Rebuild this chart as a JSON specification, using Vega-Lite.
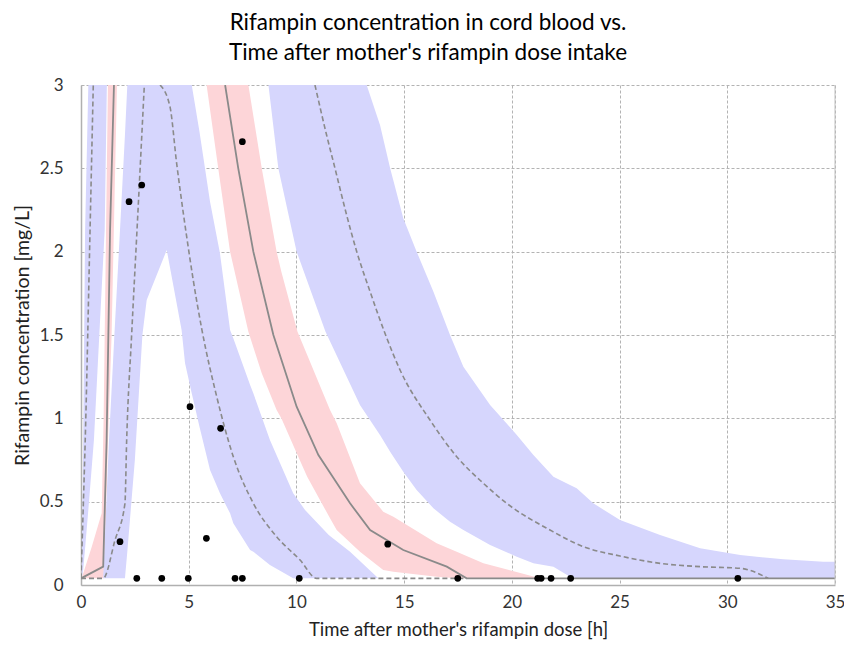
{
  "$schema": "https://vega.github.io/schema/vega-lite/v6.json",
  "width": 754,
  "height": 500,
  "autosize": {"type": "none"},
  "padding": {"left": 81, "top": 85, "right": 9, "bottom": 65},
  "background": "white",
  "title": {
    "text": ["Rifampin concentration in cord blood vs.", "Time after mother's rifampin dose intake"],
    "font": "Lato",
    "fontSize": 22.5,
    "fontWeight": "normal",
    "color": "#000000",
    "anchor": "middle",
    "dx": -30,
    "offset": 12,
    "lineHeight": 30
  },
  "config": {
    "view": {"stroke": null},
    "axis": {
      "grid": true,
      "gridColor": "#b3b3b3",
      "gridDash": [3, 2],
      "gridWidth": 1,
      "domainColor": "#b0b0b0",
      "domainWidth": 1.5,
      "ticks": false,
      "labelFlush": false,
      "labelFont": "Lato",
      "labelFontSize": 17,
      "labelColor": "#333333",
      "titleFont": "Lato",
      "titleFontSize": 18.5,
      "titleFontWeight": "normal",
      "titleColor": "#222222",
      "zindex": 1
    }
  },
  "datasets": {
    "bands": [
      {"band": "p95", "seg": "p95a", "t": 0.03, "lo": 0.04, "hi": 0.04},
      {"band": "p95", "seg": "p95a", "t": 0.1, "lo": 0.09, "hi": 0.84},
      {"band": "p95", "seg": "p95a", "t": 0.19, "lo": 0.22, "hi": 2.13},
      {"band": "p95", "seg": "p95a", "t": 0.34, "lo": 0.45, "hi": 3},
      {"band": "p95", "seg": "p95a", "t": 0.6, "lo": 0.87, "hi": 3},
      {"band": "p95", "seg": "p95a", "t": 0.85, "lo": 1.5, "hi": 3},
      {"band": "p95", "seg": "p95a", "t": 1.1, "lo": 2.13, "hi": 3},
      {"band": "p95", "seg": "p95a", "t": 1.2, "lo": 3, "hi": 3},

      {"band": "p95", "seg": "p95b", "t": 8.7, "lo": 3, "hi": 3},
      {"band": "p95", "seg": "p95b", "t": 9.16, "lo": 2.5, "hi": 3},
      {"band": "p95", "seg": "p95b", "t": 10.01, "lo": 2.0, "hi": 3},
      {"band": "p95", "seg": "p95b", "t": 11.35, "lo": 1.52, "hi": 3},
      {"band": "p95", "seg": "p95b", "t": 12.95, "lo": 1.08, "hi": 3},
      {"band": "p95", "seg": "p95b", "t": 13.26, "lo": 1.02, "hi": 3},
      {"band": "p95", "seg": "p95b", "t": 13.88, "lo": 0.9, "hi": 2.76},
      {"band": "p95", "seg": "p95b", "t": 14.35, "lo": 0.8, "hi": 2.5},
      {"band": "p95", "seg": "p95b", "t": 14.96, "lo": 0.68, "hi": 2.2},
      {"band": "p95", "seg": "p95b", "t": 15.58, "lo": 0.57, "hi": 2.0},
      {"band": "p95", "seg": "p95b", "t": 16.36, "lo": 0.46, "hi": 1.76},
      {"band": "p95", "seg": "p95b", "t": 17.13, "lo": 0.38, "hi": 1.5},
      {"band": "p95", "seg": "p95b", "t": 17.75, "lo": 0.33, "hi": 1.31},
      {"band": "p95", "seg": "p95b", "t": 18.99, "lo": 0.24, "hi": 1.08},
      {"band": "p95", "seg": "p95b", "t": 20.23, "lo": 0.17, "hi": 0.9},
      {"band": "p95", "seg": "p95b", "t": 21.0, "lo": 0.13, "hi": 0.78},
      {"band": "p95", "seg": "p95b", "t": 21.93, "lo": 0.11, "hi": 0.65},
      {"band": "p95", "seg": "p95b", "t": 22.7, "lo": 0.05, "hi": 0.6},
      {"band": "p95", "seg": "p95b", "t": 23.01, "lo": 0.04, "hi": 0.58},
      {"band": "p95", "seg": "p95b", "t": 23.78, "lo": 0.04, "hi": 0.49},
      {"band": "p95", "seg": "p95b", "t": 25.02, "lo": 0.04, "hi": 0.39},
      {"band": "p95", "seg": "p95b", "t": 26.88, "lo": 0.04, "hi": 0.3},
      {"band": "p95", "seg": "p95b", "t": 28.74, "lo": 0.04, "hi": 0.22},
      {"band": "p95", "seg": "p95b", "t": 30.6, "lo": 0.04, "hi": 0.18},
      {"band": "p95", "seg": "p95b", "t": 32.6, "lo": 0.04, "hi": 0.154},
      {"band": "p95", "seg": "p95b", "t": 34.46, "lo": 0.04, "hi": 0.14},
      {"band": "p95", "seg": "p95b", "t": 35, "lo": 0.04, "hi": 0.14},

      {"band": "med", "seg": "meda", "t": 0.03, "lo": 0.04, "hi": 0.04},
      {"band": "med", "seg": "meda", "t": 0.5, "lo": 0.04, "hi": 0.23},
      {"band": "med", "seg": "meda", "t": 0.96, "lo": 0.04, "hi": 0.43},
      {"band": "med", "seg": "meda", "t": 1.05, "lo": 0.04, "hi": 1.0},
      {"band": "med", "seg": "meda", "t": 1.15, "lo": 0.4, "hi": 2.0},
      {"band": "med", "seg": "meda", "t": 1.25, "lo": 0.85, "hi": 3},
      {"band": "med", "seg": "meda", "t": 1.42, "lo": 1.5, "hi": 3},
      {"band": "med", "seg": "meda", "t": 1.67, "lo": 3, "hi": 3},

      {"band": "med", "seg": "medb", "t": 5.83, "lo": 3, "hi": 3},
      {"band": "med", "seg": "medb", "t": 6.37, "lo": 2.5, "hi": 3},
      {"band": "med", "seg": "medb", "t": 6.92, "lo": 2.0, "hi": 3},
      {"band": "med", "seg": "medb", "t": 7.77, "lo": 1.52, "hi": 3},
      {"band": "med", "seg": "medb", "t": 8.39, "lo": 1.27, "hi": 2.5},
      {"band": "med", "seg": "medb", "t": 9.08, "lo": 1.05, "hi": 2.0},
      {"band": "med", "seg": "medb", "t": 9.3, "lo": 1.0, "hi": 1.88},
      {"band": "med", "seg": "medb", "t": 10.05, "lo": 0.78, "hi": 1.52},
      {"band": "med", "seg": "medb", "t": 10.5, "lo": 0.65, "hi": 1.38},
      {"band": "med", "seg": "medb", "t": 11.56, "lo": 0.4, "hi": 1.05},
      {"band": "med", "seg": "medb", "t": 11.87, "lo": 0.33, "hi": 0.97},
      {"band": "med", "seg": "medb", "t": 12.95, "lo": 0.2, "hi": 0.61},
      {"band": "med", "seg": "medb", "t": 14.03, "lo": 0.09, "hi": 0.44},
      {"band": "med", "seg": "medb", "t": 14.5, "lo": 0.08, "hi": 0.41},
      {"band": "med", "seg": "medb", "t": 16.51, "lo": 0.05, "hi": 0.25},
      {"band": "med", "seg": "medb", "t": 17.44, "lo": 0.04, "hi": 0.2},
      {"band": "med", "seg": "medb", "t": 18.68, "lo": 0.04, "hi": 0.13},
      {"band": "med", "seg": "medb", "t": 21.31, "lo": 0.04, "hi": 0.04},

      {"band": "p05", "seg": "p05", "t": 1.03, "lo": 0.04, "hi": 0.04},
      {"band": "p05", "seg": "p05", "t": 1.3, "lo": 0.04, "hi": 0.87},
      {"band": "p05", "seg": "p05", "t": 1.55, "lo": 0.04, "hi": 1.5},
      {"band": "p05", "seg": "p05", "t": 1.81, "lo": 0.04, "hi": 2.13},
      {"band": "p05", "seg": "p05", "t": 2.04, "lo": 0.04, "hi": 2.7},
      {"band": "p05", "seg": "p05", "t": 2.15, "lo": 0.2, "hi": 3},
      {"band": "p05", "seg": "p05", "t": 2.5, "lo": 0.75, "hi": 3},
      {"band": "p05", "seg": "p05", "t": 2.85, "lo": 1.5, "hi": 3},
      {"band": "p05", "seg": "p05", "t": 3.05, "lo": 1.71, "hi": 3},
      {"band": "p05", "seg": "p05", "t": 3.98, "lo": 2.01, "hi": 3},
      {"band": "p05", "seg": "p05", "t": 4.67, "lo": 1.53, "hi": 3},
      {"band": "p05", "seg": "p05", "t": 4.83, "lo": 1.33, "hi": 3},
      {"band": "p05", "seg": "p05", "t": 5.14, "lo": 1.15, "hi": 3},
      {"band": "p05", "seg": "p05", "t": 5.5, "lo": 0.95, "hi": 2.72},
      {"band": "p05", "seg": "p05", "t": 5.99, "lo": 0.69, "hi": 2.3},
      {"band": "p05", "seg": "p05", "t": 6.45, "lo": 0.55, "hi": 1.99},
      {"band": "p05", "seg": "p05", "t": 6.92, "lo": 0.43, "hi": 1.53},
      {"band": "p05", "seg": "p05", "t": 7.07, "lo": 0.37, "hi": 1.48},
      {"band": "p05", "seg": "p05", "t": 7.85, "lo": 0.21, "hi": 1.2},
      {"band": "p05", "seg": "p05", "t": 8.0, "lo": 0.2, "hi": 1.15},
      {"band": "p05", "seg": "p05", "t": 8.77, "lo": 0.12, "hi": 0.87},
      {"band": "p05", "seg": "p05", "t": 9.85, "lo": 0.04, "hi": 0.55},
      {"band": "p05", "seg": "p05", "t": 10.4, "lo": 0.04, "hi": 0.45},
      {"band": "p05", "seg": "p05", "t": 11.5, "lo": 0.04, "hi": 0.3},
      {"band": "p05", "seg": "p05", "t": 12.49, "lo": 0.04, "hi": 0.2},
      {"band": "p05", "seg": "p05", "t": 13.8, "lo": 0.04, "hi": 0.04}
    ],
    "lines": [
      {"series": "p05a", "style": "dash", "t": 0, "c": 0.04},
      {"series": "p05a", "style": "dash", "t": 1.03, "c": 0.04},
      {"series": "p05a", "style": "dash", "t": 1.58, "c": 0.27},
      {"series": "p05a", "style": "dash", "t": 2.04, "c": 0.49},
      {"series": "p05a", "style": "dash", "t": 2.12, "c": 0.87},
      {"series": "p05a", "style": "dash", "t": 2.35, "c": 1.5},
      {"series": "p05a", "style": "dash", "t": 2.6, "c": 2.13},
      {"series": "p05a", "style": "dash", "t": 2.94, "c": 3.0},

      {"series": "p05b", "style": "dash", "t": 3.67, "c": 3.0},
      {"series": "p05b", "style": "dash", "t": 4.13, "c": 2.87},
      {"series": "p05b", "style": "dash", "t": 4.44, "c": 2.53},
      {"series": "p05b", "style": "dash", "t": 4.75, "c": 2.23},
      {"series": "p05b", "style": "dash", "t": 5.02, "c": 1.99},
      {"series": "p05b", "style": "dash", "t": 5.21, "c": 1.83},
      {"series": "p05b", "style": "dash", "t": 5.6, "c": 1.54},
      {"series": "p05b", "style": "dash", "t": 6.3, "c": 1.13},
      {"series": "p05b", "style": "dash", "t": 7.07, "c": 0.77},
      {"series": "p05b", "style": "dash", "t": 8.0, "c": 0.49},
      {"series": "p05b", "style": "dash", "t": 9.08, "c": 0.29},
      {"series": "p05b", "style": "dash", "t": 10.17, "c": 0.15},
      {"series": "p05b", "style": "dash", "t": 10.94, "c": 0.04},
      {"series": "p05b", "style": "dash", "t": 17.9, "c": 0.04},

      {"series": "p95a", "style": "dash", "t": 0, "c": 0.04},
      {"series": "p95a", "style": "dash", "t": 0.1, "c": 0.45},
      {"series": "p95a", "style": "dash", "t": 0.19, "c": 0.84},
      {"series": "p95a", "style": "dash", "t": 0.42, "c": 2.13},
      {"series": "p95a", "style": "dash", "t": 0.57, "c": 3.0},

      {"series": "p95b", "style": "dash", "t": 10.86, "c": 3.0},
      {"series": "p95b", "style": "dash", "t": 11.4, "c": 2.7},
      {"series": "p95b", "style": "dash", "t": 11.79, "c": 2.5},
      {"series": "p95b", "style": "dash", "t": 12.33, "c": 2.22},
      {"series": "p95b", "style": "dash", "t": 12.8, "c": 2.0},
      {"series": "p95b", "style": "dash", "t": 13.42, "c": 1.76},
      {"series": "p95b", "style": "dash", "t": 14.11, "c": 1.51},
      {"series": "p95b", "style": "dash", "t": 14.81, "c": 1.29},
      {"series": "p95b", "style": "dash", "t": 16.2, "c": 0.99},
      {"series": "p95b", "style": "dash", "t": 17.44, "c": 0.77},
      {"series": "p95b", "style": "dash", "t": 18.68, "c": 0.61},
      {"series": "p95b", "style": "dash", "t": 19.76, "c": 0.49},
      {"series": "p95b", "style": "dash", "t": 21.77, "c": 0.33},
      {"series": "p95b", "style": "dash", "t": 23.32, "c": 0.23},
      {"series": "p95b", "style": "dash", "t": 25.02, "c": 0.174},
      {"series": "p95b", "style": "dash", "t": 26.88, "c": 0.13},
      {"series": "p95b", "style": "dash", "t": 28.74, "c": 0.11},
      {"series": "p95b", "style": "dash", "t": 30.6, "c": 0.1},
      {"series": "p95b", "style": "dash", "t": 31.9, "c": 0.04},

      {"series": "meda", "style": "solid", "t": 0, "c": 0.04},
      {"series": "meda", "style": "solid", "t": 1.03, "c": 0.11},
      {"series": "meda", "style": "solid", "t": 1.19, "c": 0.87},
      {"series": "meda", "style": "solid", "t": 1.35, "c": 2.13},
      {"series": "meda", "style": "solid", "t": 1.53, "c": 3.0},

      {"series": "medb", "style": "solid", "t": 6.69, "c": 3.0},
      {"series": "medb", "style": "solid", "t": 7.3, "c": 2.5},
      {"series": "medb", "style": "solid", "t": 8.0, "c": 2.0},
      {"series": "medb", "style": "solid", "t": 8.93, "c": 1.5},
      {"series": "medb", "style": "solid", "t": 10.01, "c": 1.07},
      {"series": "medb", "style": "solid", "t": 11.02, "c": 0.78},
      {"series": "medb", "style": "solid", "t": 12.49, "c": 0.49},
      {"series": "medb", "style": "solid", "t": 13.42, "c": 0.33},
      {"series": "medb", "style": "solid", "t": 14.96, "c": 0.21},
      {"series": "medb", "style": "solid", "t": 16.98, "c": 0.11},
      {"series": "medb", "style": "solid", "t": 17.9, "c": 0.04},
      {"series": "medb", "style": "solid", "t": 35, "c": 0.04}
    ],
    "obs": [
      {"t": 1.81, "c": 0.26},
      {"t": 2.23, "c": 2.30},
      {"t": 2.82, "c": 2.40},
      {"t": 7.49, "c": 2.66},
      {"t": 5.06, "c": 1.07},
      {"t": 6.48, "c": 0.94},
      {"t": 5.82, "c": 0.28},
      {"t": 14.24, "c": 0.245},
      {"t": 2.59, "c": 0.04},
      {"t": 3.75, "c": 0.04},
      {"t": 4.98, "c": 0.04},
      {"t": 7.15, "c": 0.04},
      {"t": 7.49, "c": 0.04},
      {"t": 10.13, "c": 0.04},
      {"t": 17.49, "c": 0.04},
      {"t": 21.2, "c": 0.04},
      {"t": 21.36, "c": 0.04},
      {"t": 21.82, "c": 0.04},
      {"t": 22.73, "c": 0.04},
      {"t": 30.49, "c": 0.04}
    ]
  },
  "layer": [
    {
      "data": {"name": "bands"},
      "mark": {"type": "area", "clip": true, "opacity": 1},
      "encoding": {
        "x": {
          "field": "t", "type": "quantitative",
          "scale": {"domain": [0, 35], "nice": false, "zero": false},
          "axis": {
            "values": [0, 5, 10, 15, 20, 25, 30, 35],
            "title": "Time after mother's rifampin dose [h]",
            "labelPadding": 9,
            "titlePadding": 10
          }
        },
        "y": {
          "field": "hi", "type": "quantitative",
          "scale": {"domain": [0, 3], "nice": false, "zero": false},
          "axis": {
            "values": [0, 0.5, 1, 1.5, 2, 2.5, 3],
            "format": "~g",
            "title": "Rifampin concentration [mg/L]",
            "titleFontSize": 19.5,
            "labelPadding": 18,
            "titlePadding": 7
          }
        },
        "y2": {"field": "lo"},
        "color": {
          "field": "band", "type": "nominal",
          "scale": {"domain": ["p05", "med", "p95"], "range": ["#d6d6fd", "#fdd5d8", "#d6d6fd"]},
          "legend": null
        },
        "detail": {"field": "seg"}
      }
    },
    {
      "data": {"name": "lines"},
      "transform": [{"filter": "datum.style === 'dash'"}],
      "mark": {"type": "line", "clip": true, "color": "#8a8a8a", "strokeWidth": 1.6, "strokeDash": [5, 3], "interpolate": "monotone"},
      "encoding": {
        "x": {"field": "t", "type": "quantitative"},
        "y": {"field": "c", "type": "quantitative"},
        "detail": {"field": "series"}
      }
    },
    {
      "data": {"name": "lines"},
      "transform": [{"filter": "datum.style === 'solid'"}],
      "mark": {"type": "line", "clip": true, "color": "#8a8a8a", "strokeWidth": 1.8},
      "encoding": {
        "x": {"field": "t", "type": "quantitative"},
        "y": {"field": "c", "type": "quantitative"},
        "detail": {"field": "series"}
      }
    },
    {
      "data": {"name": "obs"},
      "mark": {"type": "circle", "color": "#000000", "opacity": 1, "size": 45, "clip": true},
      "encoding": {
        "x": {"field": "t", "type": "quantitative"},
        "y": {"field": "c", "type": "quantitative"}
      }
    },
    {
      "data": {"values": [{}]},
      "mark": {"type": "rule", "color": "#c0c0c0", "strokeWidth": 1},
      "encoding": {"x": {"datum": 35}}
    }
  ]
}
